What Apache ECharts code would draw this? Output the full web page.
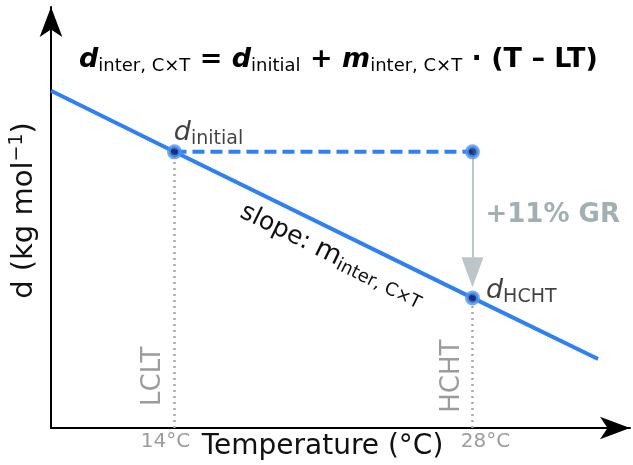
<!DOCTYPE html>
<html>
<head>
<meta charset="utf-8">
<script src="https://cdn.jsdelivr.net/npm/echarts@6/dist/echarts.min.js"></script>
<style>
  html, body { margin: 0; padding: 0; background: #fff; }
  #chart { width: 633px; height: 465px; }
</style>
</head>
<body>
<div id="chart"></div>
<script>
// fitted line d = d_initial + m * (T - LT)
var lineTemps = [8.2, 14, 28, 33.9];
var lineD = [80.1, 65.6, 30.9, 16.4];

// the two marked temperatures and their d values
var lowTemp = 14;
var highTemp = 28;
var dInitial = 65.6;
var dHCHT = 30.9;
var arrowEnd = 37.0; // where the grey arrow head sits

// x-axis tick labels
var tickTemps = [14, 28];
var tickLabels = ['14°C', '28°C'];

// anchors (data units) for the text notes
var slopeLabelAt = [21.4, 41.1];
var grLabelD = 50.6;
var tagD = 12.3;

var FONT = '"DejaVu Sans", Verdana, sans-serif';
var BLUE = '#2F80F2';
var GREY = '#9C9C9C';

function pairs(xs, ys) {
    return xs.map(function (x, i) { return [x, ys[i]]; });
}

var subRich = {
    d: { fontFamily: FONT, fontSize: 27, fontStyle: 'italic', color: '#111' },
    s: { fontFamily: FONT, fontSize: 19, color: '#111', padding: [12, 0, 0, 0] }
};

var chart = echarts.init(document.getElementById('chart'));

var option = {
    animation: false,
    backgroundColor: '#fff',
    textStyle: { fontFamily: FONT },
    title: {
        text: '{d|d}{s|inter, C×T}{o| = }{d|d}{s|initial}{o| + }{d|m}{s|inter, C×T}{o| · (T – LT)}',
        left: 74,
        top: 40,
        textStyle: {
            fontWeight: 'normal',
            rich: {
                d: { fontFamily: FONT, fontSize: 27, fontWeight: 'bold', fontStyle: 'italic', color: '#000' },
                o: { fontFamily: FONT, fontSize: 27, fontWeight: 'bold', color: '#000' },
                s: { fontFamily: FONT, fontSize: 18, fontWeight: 'normal', color: '#000', padding: [12, 0, 0, 0] }
            }
        }
    },
    grid: { left: 51, right: 3, top: 7, bottom: 37, outerBoundsMode: 'none' },
    xAxis: {
        type: 'value',
        min: 8.2,
        max: 35.4,
        name: 'Temperature (°C)',
        nameLocation: 'middle',
        nameGap: 5,
        nameMoveOverlap: false,
        nameTextStyle: { fontSize: 28, color: '#111', padding: [0, 36, 0, 0] },
        axisLine: {
            lineStyle: { color: '#000', width: 2 },
            symbol: ['none', 'arrow'],
            symbolSize: [17, 30]
        },
        axisTick: { show: false },
        splitLine: { show: false },
        axisLabel: {
            customValues: tickTemps,
            margin: 4,
            color: GREY,
            fontSize: 20,
            formatter: function (v) {
                var i = tickTemps.indexOf(v);
                return (i === 0 ? '{a|' : '{b|') + tickLabels[i] + '}';
            },
            rich: {
                a: { fontSize: 20, color: GREY, padding: [0, 18, 0, 0] },
                b: { fontSize: 20, color: GREY, padding: [0, 0, 0, 26] }
            }
        }
    },
    yAxis: {
        type: 'value',
        min: 0,
        max: 100,
        name: 'd (kg mol{sup|−1})',
        nameLocation: 'middle',
        nameGap: 10,
        nameMoveOverlap: false,
        nameTextStyle: {
            fontSize: 29,
            color: '#111',
            padding: [0, 0, 0, 14],
            rich: {
                sup: { fontSize: 19, color: '#111', padding: [0, 0, 14, 0] }
            }
        },
        axisLine: {
            lineStyle: { color: '#000', width: 2 },
            symbol: ['none', 'arrow'],
            symbolSize: [17, 30]
        },
        axisTick: { show: false },
        axisLabel: { show: false },
        splitLine: { show: false }
    },
    series: [
        {
            type: 'line',
            data: pairs(lineTemps, lineD),
            symbol: 'none',
            silent: true,
            lineStyle: { color: BLUE, width: 4 },
            z: 3
        },
        {
            type: 'line',
            data: pairs([lowTemp, highTemp], [dInitial, dInitial]),
            symbol: 'none',
            silent: true,
            lineStyle: { color: BLUE, width: 4, type: [12, 6] },
            z: 3
        },
        {
            type: 'line',
            data: pairs([lowTemp, lowTemp], [0, dInitial]),
            symbol: 'none',
            silent: true,
            lineStyle: { color: '#AAAAAA', width: 2.5, type: [2, 4] },
            z: 2
        },
        {
            type: 'line',
            data: pairs([highTemp, highTemp], [0, dHCHT]),
            symbol: 'none',
            silent: true,
            lineStyle: { color: '#AAAAAA', width: 2.5, type: [2, 4] },
            z: 2
        },
        {
            type: 'line',
            data: [],
            z: 2,
            markLine: {
                silent: true,
                symbol: ['none', 'triangle'],
                symbolSize: [22, 30],
                label: { show: false },
                lineStyle: { color: '#BCC5C8', width: 2, type: 'solid' },
                data: [[{ coord: [highTemp, dInitial] }, { coord: [highTemp, arrowEnd] }]]
            }
        },
        {
            type: 'scatter',
            symbolSize: 11,
            silent: true,
            itemStyle: { color: '#0A1A66', borderColor: '#4E97F5', borderWidth: 4 },
            z: 5,
            data: [
                {
                    value: [lowTemp, dInitial],
                    label: {
                        show: true, position: 'top', distance: 0, offset: [34, 4],
                        formatter: '{d|d}{s|initial}', rich: subRich
                    }
                },
                { value: [highTemp, dInitial] },
                {
                    value: [highTemp, dHCHT],
                    label: {
                        show: true, position: 'right', distance: 6, offset: [0, -7],
                        formatter: '{d|d}{s|HCHT}', rich: subRich
                    }
                }
            ]
        }
    ]
};

chart.setOption(option);

var toPx = function (pt) { return chart.convertToPixel({ gridIndex: 0 }, pt); };
var pSlope = toPx(slopeLabelAt);
var pGR = toPx([highTemp, grLabelD]);
var pL = toPx([lowTemp, tagD]);
var pH = toPx([highTemp, tagD]);

chart.setOption({
    graphic: [
        {
            type: 'text',
            x: pSlope[0], y: pSlope[1],
            rotation: -0.456,
            silent: true,
            style: {
                text: '{t|slope: }{m|m}{s|inter, C×T}',
                align: 'center', verticalAlign: 'middle',
                rich: {
                    t: { fontFamily: FONT, fontSize: 25, fill: '#111' },
                    m: { fontFamily: FONT, fontSize: 27, fill: '#111' },
                    s: { fontFamily: FONT, fontSize: 18, fill: '#111', padding: [12, 0, 0, 0] }
                }
            }
        },
        {
            type: 'text',
            x: pGR[0] + 13, y: pGR[1],
            silent: true,
            style: {
                text: '+11% GR',
                fontFamily: FONT, fontSize: 26, fontWeight: 'bold', fill: '#A2AFB3',
                align: 'left', verticalAlign: 'middle'
            }
        },
        {
            type: 'text',
            x: pL[0] - 21, y: pL[1],
            rotation: Math.PI / 2,
            silent: true,
            style: {
                text: 'LCLT', fontFamily: FONT, fontSize: 26, fill: GREY,
                align: 'center', verticalAlign: 'middle'
            }
        },
        {
            type: 'text',
            x: pH[0] - 20, y: pH[1],
            rotation: Math.PI / 2,
            silent: true,
            style: {
                text: 'HCHT', fontFamily: FONT, fontSize: 26, fill: GREY,
                align: 'center', verticalAlign: 'middle'
            }
        }
    ]
});

window.addEventListener('resize', function () {
    chart.resize();
});
</script>
</body>
</html>
